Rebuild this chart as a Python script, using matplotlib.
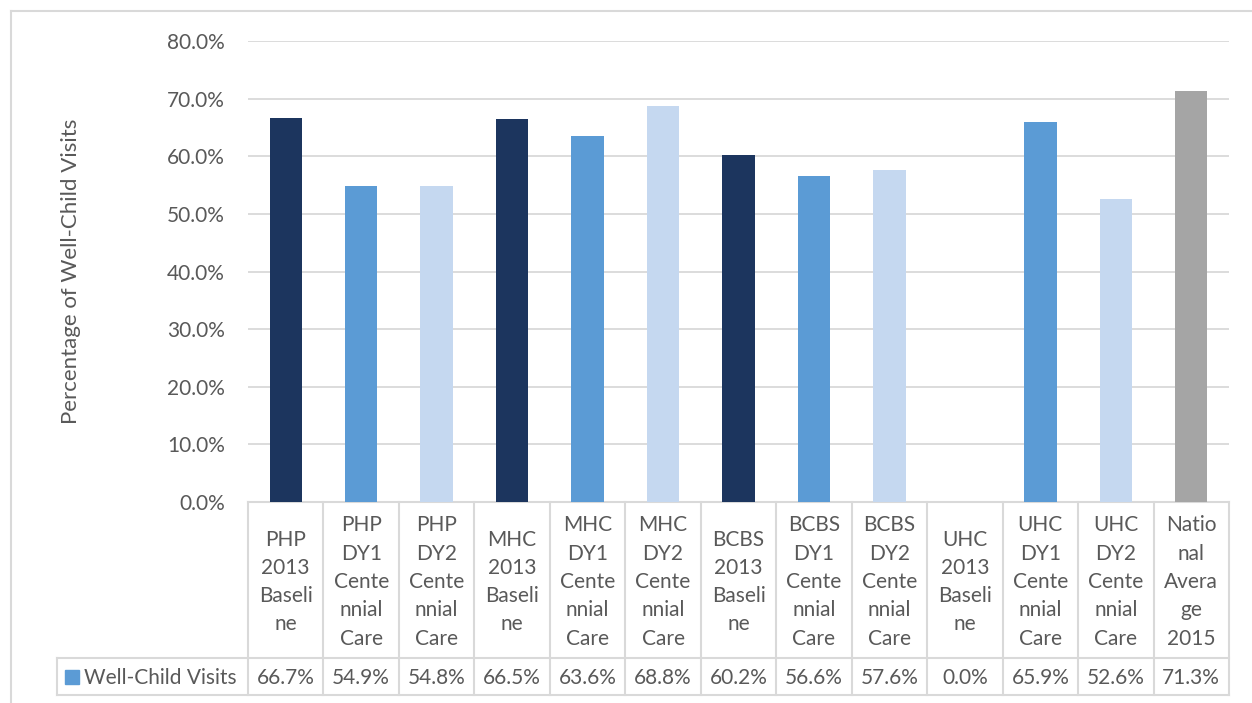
import matplotlib.pyplot as plt
from matplotlib.patches import Rectangle

# data
categories = ['PHP\n2013\nBaseli\nne', 'PHP\nDY1\nCente\nnnial\nCare', 'PHP\nDY2\nCente\nnnial\nCare',
              'MHC\n2013\nBaseli\nne', 'MHC\nDY1\nCente\nnnial\nCare', 'MHC\nDY2\nCente\nnnial\nCare',
              'BCBS\n2013\nBaseli\nne', 'BCBS\nDY1\nCente\nnnial\nCare', 'BCBS\nDY2\nCente\nnnial\nCare',
              'UHC\n2013\nBaseli\nne', 'UHC\nDY1\nCente\nnnial\nCare', 'UHC\nDY2\nCente\nnnial\nCare',
              'Natio\nnal\nAvera\nge\n2015']
visits = [0.667, 0.549, 0.548, 0.665, 0.636, 0.688, 0.602, 0.566, 0.576, 0.000, 0.659, 0.526, 0.713]
series_name = 'Well-Child Visits'

dark = '#1c355e'
mid = '#5b9bd5'
light = '#c5d8f0'
grey = '#a5a5a5'
bar_colors = [dark, mid, light] * 4 + [grey]

txt = '#595959'
line_c = '#d9d9d9'
fs = 15
plt.rcParams['font.family'] = ['Lato', 'DejaVu Sans']

W, H = 1252, 703
fig = plt.figure(figsize=(W / 100, H / 100), dpi=100)

# pixel layout of the plot area
left, right, top, bottom = 248, 1229, 41, 502
row_split, table_bottom, legend_left = 658, 695, 57

ax = fig.add_axes([left / W, 1 - bottom / H, (right - left) / W, (bottom - top) / H])
n = len(visits)
xs = [i + 0.5 for i in range(n)]
ax.bar(xs, visits, width=0.43, color=bar_colors, zorder=3)
ax.set_xlim(0, n)
ax.set_ylim(0, 0.8)
ax.set_yticks([i / 10 for i in range(9)])
ax.set_yticklabels(['%.1f%%' % (i * 10) for i in range(9)], color=txt, fontsize=fs)
ax.tick_params(axis='y', length=0, pad=16.5)
ax.set_xticks([])
ax.grid(axis='y', color=line_c, linewidth=1.3, zorder=0)
for s in ['top', 'right', 'left']:
    ax.spines[s].set_visible(False)
ax.spines['bottom'].set_color(line_c)
ax.spines['bottom'].set_linewidth(1.5)
ax.set_ylabel('Percentage of Well-Child Visits', color=txt, fontsize=16)
ax.yaxis.set_label_coords(-0.17, 0.5)

# overlay axes in pixel coordinates for the data table and chart border
ov = fig.add_axes([0, 0, 1, 1])
ov.set_xlim(0, W)
ov.set_ylim(H, 0)
ov.axis('off')
ov.patch.set_alpha(0)

col_w = (right - left) / n
lw = 1.5
for i in range(n + 1):
    x = left + i * col_w
    ov.plot([x, x], [bottom, table_bottom], color=line_c, lw=lw)
ov.plot([legend_left, legend_left], [row_split, table_bottom], color=line_c, lw=lw)
ov.plot([legend_left, right], [row_split, row_split], color=line_c, lw=lw)
ov.plot([legend_left, right], [table_bottom, table_bottom], color=line_c, lw=lw)

for i, (cat, v) in enumerate(zip(categories, visits)):
    cx = left + (i + 0.5) * col_w
    ov.text(cx, (bottom + row_split) / 2 + 2, cat, ha='center', va='center',
            color=txt, fontsize=fs, linespacing=1.52)
    ov.text(cx, (row_split + table_bottom) / 2 + 1, '%.1f%%' % (v * 100), ha='center',
            va='center', color=txt, fontsize=fs)

ov.add_patch(Rectangle((65, 670), 14, 14, color=mid))
ov.text(84, (row_split + table_bottom) / 2 + 1, series_name, ha='left', va='center',
        color=txt, fontsize=fs)

# outer chart border
ov.plot([11, 11], [11, H], color=line_c, lw=1.5)
ov.plot([11, W], [11, 11], color=line_c, lw=1.5)

fig.savefig('out.png', dpi=100, facecolor='white')
